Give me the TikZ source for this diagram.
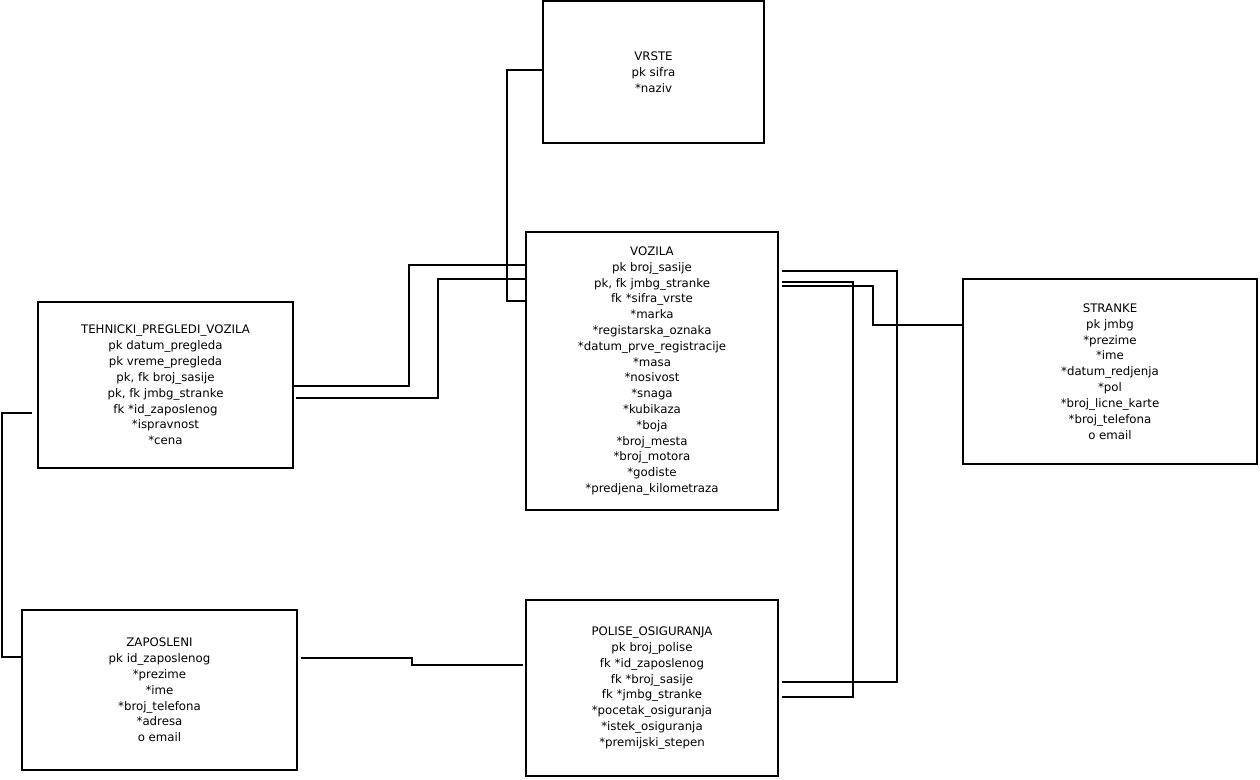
\documentclass[tikz,border=0pt]{standalone}
\usepackage{fontspec}
\setmainfont{DejaVu Sans}
\usetikzlibrary{positioning,calc}

\begin{document}
\begin{tikzpicture}[x=0.02cm, y=-0.02cm,
    tabela/.style={draw, line width=1.2pt, inner sep=0pt, align=center,
      font=\fontsize{6.7pt}{9pt}\selectfont},
    veza/.style={line width=1.2pt}]
  \useasboundingbox (0,0) rectangle (1260,779);

  % Tables
  \node[tabela, minimum width=4.42cm, minimum height=2.84cm] (vrste) at (653.5,72)
    {VRSTE\\pk sifra\\*naziv};
  \node[tabela, minimum width=5.04cm, minimum height=5.56cm] (vozila) at (652,371)
    {VOZILA\\pk broj\_sasije\\pk, fk jmbg\_stranke\\fk *sifra\_vrste\\*marka\\
     *registarska\_oznaka\\*datum\_prve\_registracije\\*masa\\*nosivost\\*snaga\\
     *kubikaza\\*boja\\*broj\_mesta\\*broj\_motora\\*godiste\\*predjena\_kilometraza};
  \node[tabela, minimum width=5.10cm, minimum height=3.32cm] (tehnicki) at (165.5,385)
    {TEHNICKI\_PREGLEDI\_VOZILA\\pk datum\_pregleda\\pk vreme\_pregleda\\
     pk, fk broj\_sasije\\pk, fk jmbg\_stranke\\fk *id\_zaposlenog\\*ispravnost\\*cena};
  \node[tabela, minimum width=5.88cm, minimum height=3.70cm] (stranke) at (1110,371.5)
    {STRANKE\\pk jmbg\\*prezime\\*ime\\*datum\_redjenja\\*pol\\*broj\_licne\_karte\\
     *broj\_telefona\\o email};
  \node[tabela, minimum width=5.50cm, minimum height=3.20cm] (zaposleni) at (159.5,690)
    {ZAPOSLENI\\pk id\_zaposlenog\\*prezime\\*ime\\*broj\_telefona\\*adresa\\o email};
  \node[tabela, minimum width=5.04cm, minimum height=3.52cm] (polise) at (652,688)
    {POLISE\_OSIGURANJA\\pk broj\_polise\\fk *id\_zaposlenog\\fk *broj\_sasije\\
     fk *jmbg\_stranke\\*pocetak\_osiguranja\\*istek\_osiguranja\\*premijski\_stepen};

  % Relations
  \draw[veza] (vrste.west |- 0,70) -| (507,301) -- (vozila.west |- 0,301);
  \draw[veza] (tehnicki.east |- 0,386) -| (409,265) -- (vozila.west |- 0,265);
  \draw[veza, shorten <=0.04cm] (tehnicki.east |- 0,398) -| (438,279) -- (vozila.west |- 0,279);
  \draw[veza, shorten <=0.1cm] (tehnicki.west |- 0,413) -| (2,657) -- (zaposleni.west |- 0,657);
  \draw[veza, shorten <=0.06cm, shorten >=0.04cm] (zaposleni.east |- 0,658) -| (412,665) -- (polise.west |- 0,665);
  \draw[veza, shorten <=0.06cm, shorten >=0.06cm] (vozila.east |- 0,271) -| (897,682) -- (polise.east |- 0,682);
  \draw[veza, shorten <=0.06cm, shorten >=0.06cm] (vozila.east |- 0,282) -| (853,697) -- (polise.east |- 0,697);
  \draw[veza, shorten <=0.06cm] (vozila.east |- 0,286) -| (873,325) -- (stranke.west |- 0,325);
\end{tikzpicture}
\end{document}
